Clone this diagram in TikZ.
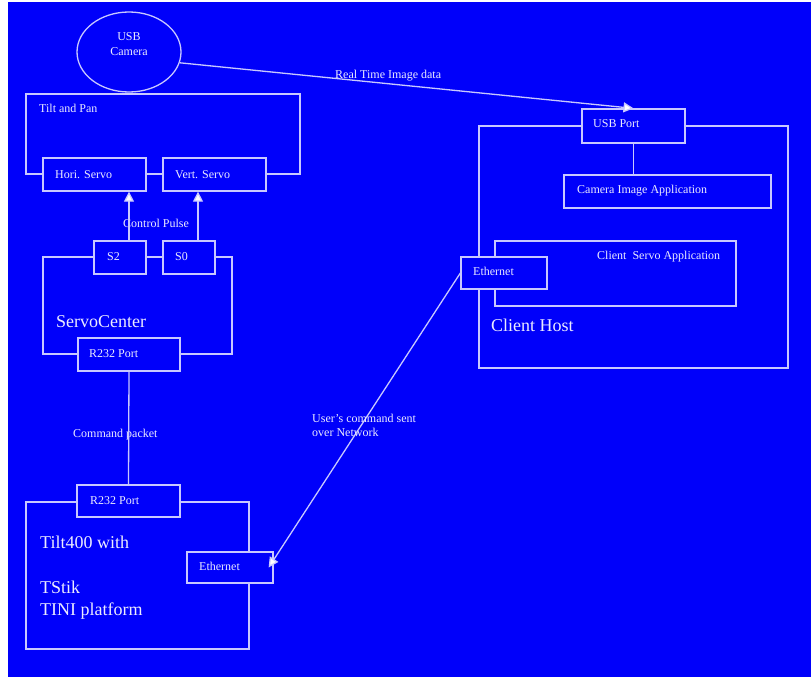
\documentclass[tikz,border=0pt]{standalone}
\usepackage{fontspec}
\setmainfont{Liberation Serif}
\usetikzlibrary{arrows.meta,shapes.geometric,fit}
\definecolor{bg}{RGB}{0,0,250}
\definecolor{lc}{RGB}{200,200,255}
\definecolor{tc}{RGB}{235,235,255}
\tikzset{
  box/.style={draw=lc, fill=bg, line width=1.3pt, inner sep=0pt},
  frame/.style={draw=lc, line width=1.3pt, inner sep=0pt},
  txt/.style={text=tc, anchor=base west, inner sep=0pt, font=\fontsize{12}{14}\selectfont},
  bigtxt/.style={text=tc, anchor=base west, inner sep=0pt, font=\fontsize{18}{20}\selectfont},
  conn/.style={draw=lc, line width=1.3pt},
  arr/.style={conn, -{Triangle[width=10pt,length=10pt,fill=white]}}
}
\begin{document}
\begin{tikzpicture}[x=1pt,y=-1pt]
\useasboundingbox (0,0) rectangle (811,677);
\fill[white] (0,0) rectangle (811,677);
\fill[bg] (8,2) rectangle (811,677);

% USB camera
\node[ellipse, draw=lc, line width=1.3pt, minimum width=104pt, minimum height=80pt, inner sep=0pt] (cam) at (129,52) {};
\node[txt, anchor=base] (camt1) at (129,41) {USB};
\node[txt, anchor=base] (camt2) at (129,56) {Camera};

% Tilt and Pan
\node[frame, fit={(26,94) (300,174)}] (tp) {};
\node[txt] (tpt) at (39,112) {Tilt and Pan};
\node[box, fit={(43,158) (146,191)}] (hori) {};
\node[txt] (horit) at (55,178) {Hori. Servo};
\node[box, fit={(163,158) (266,191)}] (vert) {};
\node[txt] (vertt) at (175,178) {Vert. Servo};

% ServoCenter
\node[frame, fit={(43,257) (232,354)}] (sc) {};
\node[box, fit={(94,241) (146,274)}] (s2) {};
\node[txt] (s2t) at (107,260) {S2};
\node[box, fit={(163,241) (215,274)}] (s0) {};
\node[txt] (s0t) at (175,260) {S0};
\node[bigtxt] (sct) at (56,327) {ServoCenter};
\node[box, fit={(78,338) (180,371)}] (r1) {};
\node[txt] (r1t) at (89,357) {R232 Port};
\node[txt] (cpt) at (123,227) {Control Pulse};

% Tilt400
\node[frame, fit={(26,502) (249,649)}] (tilt) {};
\node[box, fit={(77,485) (180,517)}] (r2) {};
\node[txt] (r2t) at (90,504) {R232 Port};
\node[bigtxt] (tt1) at (40,548) {Tilt400 with};
\node[bigtxt] (tt2) at (40,593) {TStik};
\node[bigtxt] (tt3) at (40,615) {TINI platform};
\node[box, fit={(187,552) (273,583)}] (teth) {};
\node[txt] (tetht) at (199,570) {Ethernet};
\node[txt] (cmdt) at (73,437) {Command packet};

% Client host
\node[frame, fit={(479,126) (788,368)}] (ch) {};
\node[box, fit={(582,109) (685,143)}] (usb) {};
\node[txt] (usbt) at (593,127) {USB Port};
\node[box, fit={(564,175) (771,208)}] (camapp) {};
\node[txt] (camappt) at (577,193) {Camera Image Application};
\node[box, fit={(495,241) (736,306)}] (servapp) {};
\node[txt] (servappt) at (597,259) {Client\ \ Servo Application};
\node[box, fit={(461,257) (547,289)}] (ceth) {};
\node[txt] (cetht) at (473,275) {Ethernet};
\node[bigtxt] (cht) at (491,331) {Client Host};

% connectors
\draw[arr] ([xshift=9pt]s2.north) -- ([xshift=9pt]s2.north |- hori.south);
\draw[arr] ([xshift=9pt]s0.north) -- ([xshift=9pt]s0.north |- vert.south);
\draw[conn] (r1.south) -- (r2.north);
\draw[conn] (usb.south) -- (usb.south |- camapp.north);
\draw[arr] (cam.-12) -- (usb.north);
\node[txt] (rtt) at (335,78) {Real Time Image data};
\draw[arr] (ceth.west) -- ([xshift=-5pt]teth.east);
\node[txt] (ucmd1) at (312,422) {User's command sent};
\node[txt] (ucmd2) at (312,436) {over Network};
\end{tikzpicture}
\end{document}
